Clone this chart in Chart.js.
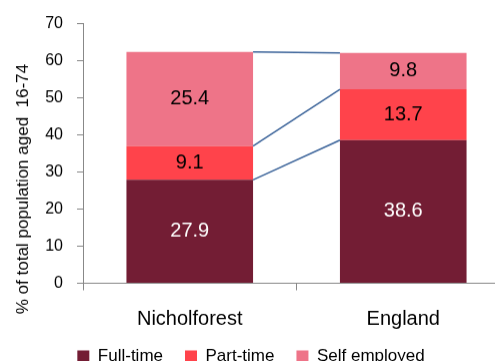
<!DOCTYPE html>
<html>
<head>
<meta charset="utf-8">
<script src="https://cdn.jsdelivr.net/npm/chart.js@4/dist/chart.umd.min.js"></script>
<style>
  html, body { margin: 0; padding: 0; background: #fff; overflow: hidden; }
  #wrap { width: 520px; height: 379.5px; position: relative; }
</style>
</head>
<body>
<div id="wrap"><canvas id="c"></canvas></div>
<script>
const categories = ['Nicholforest', 'England'];
const fullTime = [27.9, 38.6];
const partTime = [9.1, 13.7];
const selfEmployed = [25.4, 9.8];
const yTicks = [0, 10, 20, 30, 40, 50, 60, 70];
const yTitle = '% of total population aged  16-74';

const FONT = "'Liberation Sans', Arial, sans-serif";

const seriesLines = {
  id: 'seriesLines',
  afterDatasetsDraw(chart) {
    const ctx = chart.ctx;
    ctx.save();
    ctx.strokeStyle = '#3C649A';
    ctx.lineWidth = 1.5;
    chart.data.datasets.forEach((ds, i) => {
      const meta = chart.getDatasetMeta(i);
      const a = meta.data[0], b = meta.data[1];
      if (!a || !b) return;
      ctx.beginPath();
      ctx.moveTo(a.x + a.width / 2, a.y);
      ctx.lineTo(b.x - b.width / 2, b.y);
      ctx.stroke();
    });
    ctx.restore();
  }
};

const valueLabels = {
  id: 'valueLabels',
  afterDatasetsDraw(chart) {
    const ctx = chart.ctx;
    ctx.save();
    ctx.font = '20px ' + FONT;
    ctx.textAlign = 'center';
    ctx.textBaseline = 'middle';
    chart.data.datasets.forEach((ds, i) => {
      const meta = chart.getDatasetMeta(i);
      meta.data.forEach((el, j) => {
        ctx.fillStyle = i === 0 ? '#ffffff' : '#000000';
        ctx.fillText(ds.data[j].toFixed(1), el.x, (el.y + el.base) / 2);
      });
    });
    ctx.restore();
  }
};

const nudge = {
  id: 'nudge',
  afterLayout(chart) {
    if (chart.legend) {
      chart.legend.left -= 4; chart.legend.right -= 4;
      chart.legend.top -= 5.5; chart.legend.bottom -= 5.5;
    }
    if (chart.titleBlock) { chart.titleBlock.top -= 10.5; chart.titleBlock.bottom -= 10.5; }
  }
};

new Chart(document.getElementById('c'), {
  type: 'bar',
  data: {
    labels: categories,
    datasets: [
      { label: 'Full-time', data: fullTime, backgroundColor: '#731D34' },
      { label: 'Part-time', data: partTime, backgroundColor: '#FF434B' },
      { label: 'Self employed', data: selfEmployed, backgroundColor: '#EE7488' }
    ]
  },
  options: {
    responsive: true,
    maintainAspectRatio: false,
    animation: false,
    devicePixelRatio: 1,
    layout: { padding: { top: 18.5, right: 10, left: 0, bottom: 0 } },
    datasets: { bar: { categoryPercentage: 0.593, barPercentage: 1.0, borderWidth: 0 } },
    scales: {
      x: {
        stacked: true,
        offset: true,
        grid: { display: true, drawOnChartArea: false, drawTicks: true, tickLength: 7, color: '#888888', offset: true },
        border: { display: true, color: '#888888', width: 1 },
        ticks: { font: { family: FONT, size: 20 }, color: '#000000', padding: 16.5, maxRotation: 0 },
        afterFit(scale) { scale.height = 48; }
      },
      y: {
        stacked: true,
        min: 0,
        max: 70,
        afterBuildTicks(scale) { scale.ticks = yTicks.map(v => ({ value: v })); },
        grid: { display: true, drawOnChartArea: false, drawTicks: true, tickLength: 6, color: '#888888' },
        border: { display: true, color: '#888888', width: 1 },
        ticks: { font: { family: FONT, size: 16 }, color: '#000000', padding: 14 },
        afterFit(scale) { scale.width = 49.3; }
      }
    },
    plugins: {
      title: {
        display: true,
        position: 'left',
        text: yTitle,
        color: '#000000',
        font: { family: FONT, size: 17, weight: 'normal' },
        padding: { top: 13.3, bottom: 0 }
      },
      legend: {
        position: 'bottom',
        labels: {
          boxWidth: 12,
          boxHeight: 12,
          padding: 22,
          color: '#000000',
          font: { family: FONT, size: 17 }
        }
      },
      tooltip: { enabled: false }
    }
  },
  plugins: [seriesLines, valueLabels, nudge]
});
</script>
</body>
</html>
